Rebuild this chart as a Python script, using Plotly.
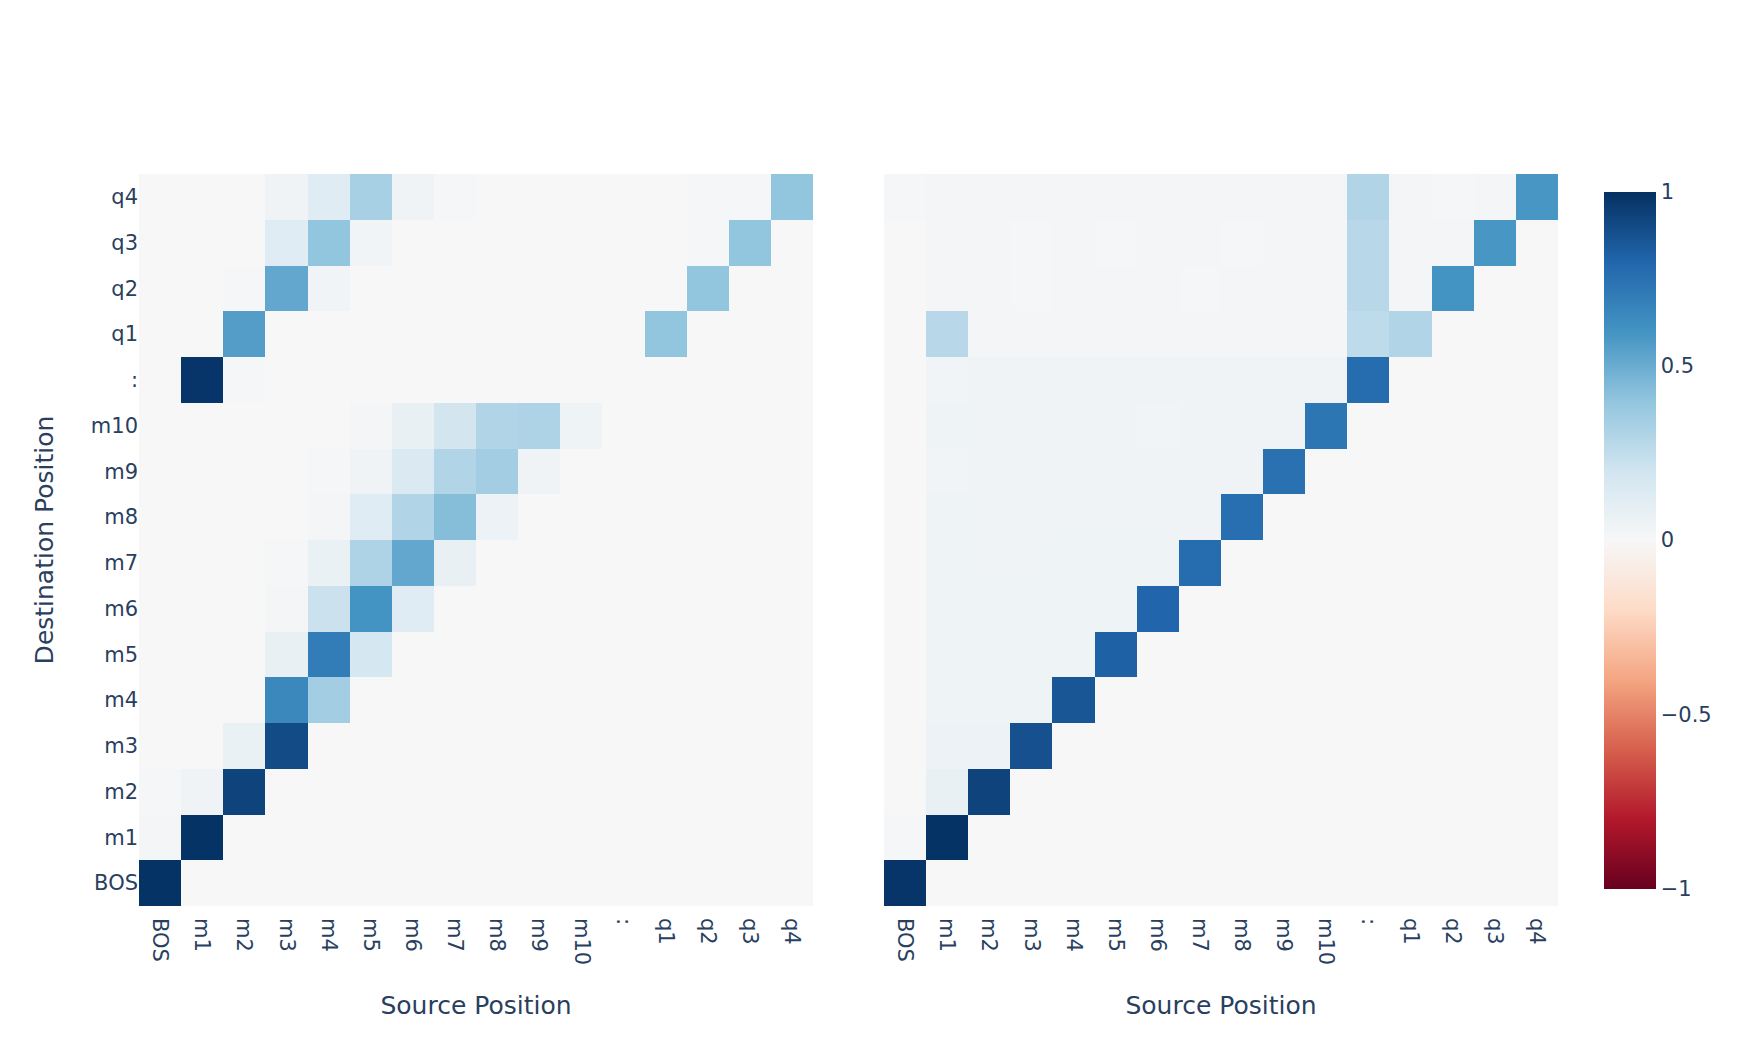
import plotly.graph_objects as go
from plotly.subplots import make_subplots

# token positions, bottom row first
positions = ["BOS", "m1", "m2", "m3", "m4", "m5", "m6", "m7", "m8", "m9", "m10",
             ":", "q1", "q2", "q3", "q4"]

# left map: rows BOS -> q4, columns BOS -> q4
left_bos = [0.99, 0, 0, 0, 0, 0, 0, 0, 0, 0, 0, 0, 0, 0, 0, 0]
left_m1 = [0.02, 0.99, 0, 0, 0, 0, 0, 0, 0, 0, 0, 0, 0, 0, 0, 0]
left_m2 = [0.01, 0.04, 0.93, 0, 0, 0, 0, 0, 0, 0, 0, 0, 0, 0, 0, 0]
left_m3 = [0, 0, 0.07, 0.90, 0, 0, 0, 0, 0, 0, 0, 0, 0, 0, 0, 0]
left_m4 = [0, 0, 0, 0.65, 0.35, 0, 0, 0, 0, 0, 0, 0, 0, 0, 0, 0]
left_m5 = [0, 0, 0, 0.08, 0.70, 0.18, 0, 0, 0, 0, 0, 0, 0, 0, 0, 0]
left_m6 = [0, 0, 0, 0.02, 0.22, 0.60, 0.12, 0, 0, 0, 0, 0, 0, 0, 0, 0]
left_m7 = [0, 0, 0, 0.01, 0.07, 0.31, 0.52, 0.08, 0, 0, 0, 0, 0, 0, 0, 0]
left_m8 = [0, 0, 0, 0, 0.02, 0.12, 0.30, 0.43, 0.06, 0, 0, 0, 0, 0, 0, 0]
left_m9 = [0, 0, 0, 0, 0.01, 0.04, 0.15, 0.30, 0.35, 0.04, 0, 0, 0, 0, 0, 0]
left_m10 = [0, 0, 0, 0, 0, 0.02, 0.08, 0.19, 0.30, 0.31, 0.05, 0, 0, 0, 0, 0]
left_colon = [0, 0.98, 0.01, 0, 0, 0, 0, 0, 0, 0, 0, 0, 0, 0, 0, 0]
left_q1 = [0, 0, 0.56, 0, 0, 0, 0, 0, 0, 0, 0, 0, 0.40, 0, 0, 0]
left_q2 = [0, 0, 0.01, 0.52, 0.03, 0, 0, 0, 0, 0, 0, 0, 0, 0.40, 0, 0]
left_q3 = [0, 0, 0, 0.12, 0.40, 0.03, 0, 0, 0, 0, 0, 0, 0, 0.01, 0.40, 0]
left_q4 = [0, 0, 0, 0.04, 0.12, 0.33, 0.04, 0.01, 0, 0, 0, 0, 0, 0.01, 0.01, 0.40]

# right map: rows BOS -> q4, columns BOS -> q4
right_bos = [0.98, 0, 0, 0, 0, 0, 0, 0, 0, 0, 0, 0, 0, 0, 0, 0]
right_m1 = [0.01, 0.99, 0, 0, 0, 0, 0, 0, 0, 0, 0, 0, 0, 0, 0, 0]
right_m2 = [0, 0.08, 0.93, 0, 0, 0, 0, 0, 0, 0, 0, 0, 0, 0, 0, 0]
right_m3 = [0, 0.06, 0.06, 0.88, 0, 0, 0, 0, 0, 0, 0, 0, 0, 0, 0, 0]
right_m4 = [0, 0.05, 0.05, 0.05, 0.86, 0, 0, 0, 0, 0, 0, 0, 0, 0, 0, 0]
right_m5 = [0, 0.05, 0.05, 0.05, 0.05, 0.82, 0, 0, 0, 0, 0, 0, 0, 0, 0, 0]
right_m6 = [0, 0.05, 0.05, 0.05, 0.05, 0.05, 0.80, 0, 0, 0, 0, 0, 0, 0, 0, 0]
right_m7 = [0, 0.05, 0.04, 0.04, 0.05, 0.05, 0.05, 0.77, 0, 0, 0, 0, 0, 0, 0, 0]
right_m8 = [0, 0.05, 0.04, 0.04, 0.04, 0.04, 0.04, 0.04, 0.76, 0, 0, 0, 0, 0, 0, 0]
right_m9 = [0, 0.03, 0.04, 0.04, 0.04, 0.04, 0.04, 0.04, 0.04, 0.75, 0, 0, 0, 0, 0, 0]
right_m10 = [0, 0.05, 0.04, 0.04, 0.04, 0.04, 0.03, 0.04, 0.04, 0.04, 0.73, 0, 0, 0, 0, 0]
right_colon = [0, 0.03, 0.04, 0.04, 0.04, 0.04, 0.04, 0.04, 0.04, 0.04, 0.04, 0.77, 0, 0, 0, 0]
right_q1 = [0, 0.28, 0.02, 0.02, 0.02, 0.02, 0.02, 0.02, 0.02, 0.02, 0.02, 0.26, 0.30, 0, 0, 0]
right_q2 = [0, 0.02, 0.02, 0.01, 0.02, 0.02, 0.02, 0.01, 0.02, 0.02, 0.02, 0.28, 0.02, 0.60, 0, 0]
right_q3 = [0, 0.02, 0.02, 0.01, 0.02, 0.01, 0.02, 0.02, 0.01, 0.02, 0.02, 0.28, 0.02, 0.02, 0.59, 0]
right_q4 = [0.01, 0.02, 0.02, 0.02, 0.02, 0.02, 0.02, 0.02, 0.02, 0.02, 0.02, 0.30, 0.02, 0.01, 0.02, 0.59]

left_z = [left_bos, left_m1, left_m2, left_m3, left_m4, left_m5, left_m6, left_m7,
          left_m8, left_m9, left_m10, left_colon, left_q1, left_q2, left_q3, left_q4]
right_z = [right_bos, right_m1, right_m2, right_m3, right_m4, right_m5, right_m6, right_m7,
           right_m8, right_m9, right_m10, right_colon, right_q1, right_q2, right_q3, right_q4]

fig = make_subplots(rows=1, cols=2, shared_yaxes=True, horizontal_spacing=0.05)

fig.add_trace(go.Heatmap(z=left_z, x=positions, y=positions, coloraxis="coloraxis"), row=1, col=1)
fig.add_trace(go.Heatmap(z=right_z, x=positions, y=positions, coloraxis="coloraxis"), row=1, col=2)

fig.update_xaxes(title_text="Source Position", title_standoff=32, tickangle=90,
                 ticklabelstandoff=11, type="category")
fig.update_yaxes(type="category")
fig.update_yaxes(title_text="Destination Position", title_standoff=30, row=1, col=1)

# the page body adds an 8px offset, so margins are trimmed by that much
fig.update_layout(
    width=1744, height=1046,
    template="plotly",
    font=dict(family="DejaVu Sans", size=21, color="#2a3f5f"),
    margin=dict(l=131, r=194, t=166, b=148, autoexpand=False),
    plot_bgcolor="white",
    coloraxis=dict(
        colorscale="RdBu", cmin=-1, cmax=1,
        colorbar=dict(thickness=52, len=1, ypad=17.5, xpad=17.5, outlinewidth=0,
                      tickvals=[-1, -0.5, 0, 0.5, 1]),
    ),
)

fig.write_html("out.html")
